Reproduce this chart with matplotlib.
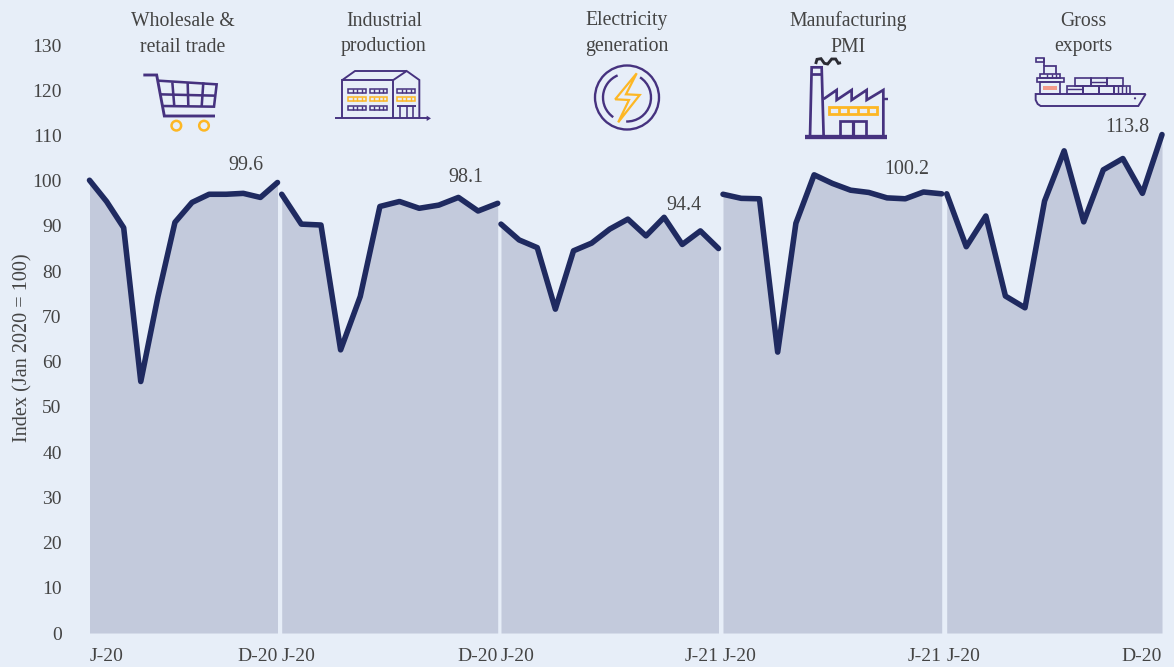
import matplotlib
matplotlib.use("Agg")
import matplotlib.pyplot as plt
from matplotlib.patches import Circle, Arc, Rectangle, Polygon

plt.rcParams['font.family'] = ['Liberation Serif', 'DejaVu Serif']

W, H = 1174, 667
BG = '#E7EEF8'; FILL = '#C3CADC'; LINE = '#1F2A60'; TXT = '#444444'
PURPLE = '#46327F'; YEL = '#FDB724'; PINK = '#F29A8A'

titles = ['Wholesale &\nretail trade', 'Industrial\nproduction', 'Electricity\ngeneration',
          'Manufacturing\nPMI', 'Gross\nexports']
first_labels = ['J-20', 'J-20', 'J-20', 'J-20', 'J-20']
last_labels = ['D-20', 'D-20', 'J-21', 'J-21', 'D-20']
end_labels = ['99.6', '98.1', '94.4', '100.2', '113.8']

wholesale = [100.1, 95.4, 89.6, 55.6, 74.3, 90.8, 95.2, 97.0, 97.0, 97.2, 96.3, 99.6]
industrial = [97.0, 90.4, 90.2, 62.6, 74.4, 94.3, 95.4, 93.9, 94.6, 96.3, 93.3, 95.0]
electricity = [90.4, 86.9, 85.2, 71.6, 84.5, 86.2, 89.3, 91.5, 87.8, 91.9, 85.9, 88.9, 85.0]
pmi = [97.0, 96.1, 96.0, 62.1, 90.6, 101.3, 99.4, 97.9, 97.4, 96.2, 96.0, 97.5, 97.1]
exports = [97.1, 85.4, 92.2, 74.5, 71.9, 95.5, 106.6, 90.9, 102.4, 104.9, 97.2, 110.2]
series = [wholesale, industrial, electricity, pmi, exports]
yticks = list(range(0, 131, 10))

# layout in pixels
panel_x = [(89.5, 277.5), (281.7, 497.7), (501, 718.5), (723, 941.7), (946.7, 1162)]
Y0, Y130 = 633.0, 45.0
title_x = [183, 384, 627, 848, 1083]
end_pos = [(246, 166), (466, 177), (684, 205), (907, 170), (1127, 127)]

fig = plt.figure(figsize=(W / 100, H / 100), dpi=100, facecolor=BG)

for i, (vals, (x0, x1)) in enumerate(zip(series, panel_x)):
    ax = fig.add_axes([x0 / W, 1 - Y0 / H, (x1 - x0) / W, (Y0 - Y130) / H])
    ax.patch.set_alpha(0)
    xs = list(range(len(vals)))
    ax.fill_between(xs, 0, vals, color=FILL, lw=0)
    ax.plot(xs, vals, color=LINE, lw=4.0, solid_capstyle='round', solid_joinstyle='round', clip_on=False, zorder=3)
    ax.set_xlim(0, len(vals) - 1)
    ax.set_ylim(0, 130)
    for s in ax.spines.values():
        s.set_visible(False)
    ax.set_xticks([0, len(vals) - 1], [first_labels[i], last_labels[i]])
    ax.tick_params(axis='x', length=0, pad=11, labelsize=14, labelcolor=TXT)
    labs = ax.get_xticklabels()
    labs[0].set_ha('left'); labs[1].set_ha('right')
    if i == 0:
        ax.set_yticks(yticks)
        ax.tick_params(axis='y', length=0, pad=20, labelsize=14, labelcolor=TXT)
    else:
        ax.set_yticks([])

ov = fig.add_axes([0, 0, 1, 1], zorder=5)
ov.set_xlim(0, W); ov.set_ylim(H, 0); ov.axis('off'); ov.patch.set_alpha(0)

ov.text(23, 348, 'Index (Jan 2020 = 100)', rotation=90, ha='center', va='center', fontsize=14.6, color=TXT)
for x, t in zip(title_x, titles):
    ov.text(x, 34, t, ha='center', va='center', fontsize=14.2, color=TXT, linespacing=1.5)
for (x, y), t in zip(end_pos, end_labels):
    ov.text(x, y, t, ha='center', va='center', fontsize=14.4, color=TXT)


def pl(ox, oy, pts, color=PURPLE, lw=1.3, scale=3.0, **kw):
    ov.plot([ox + p[0] / scale for p in pts], [oy + p[1] / scale for p in pts],
            color=color, lw=lw * 1.15, solid_capstyle='butt', solid_joinstyle='miter', **kw)


def rect(ox, oy, x0, y0, x1, y1, color=PURPLE, lw=1.2, fc='none'):
    ov.add_patch(Rectangle((ox + x0 / 3, oy + y0 / 3), (x1 - x0) / 3, (y1 - y0) / 3,
                           fill=fc != 'none', fc=fc, ec=color, lw=lw))


# cart
ox, oy = 130, 65
pl(ox, oy, [(40, 30), (80, 30), (103, 153), (255, 153)], lw=1.8)
pl(ox, oy, [(85, 47), (260, 58), (252, 125), (97, 123)], lw=1.6)
pl(ox, oy, [(90, 88), (255, 92)], lw=1.6)
for a, b in [(127, 133), (173, 175), (220, 215)]:
    pl(ox, oy, [(a, 52), (b, 125)], lw=1.6)
for c in (139, 222):
    ov.add_patch(Circle((ox + c / 3, oy + 182 / 3), 4.8, fill=False, ec=YEL, lw=1.8))

# building
ox, oy = 325, 60
pl(ox, oy, [(30, 175), (305, 175)], lw=1.2)
ov.add_patch(Polygon([(ox + 305 / 3, oy + 167 / 3), (ox + 318 / 3, oy + 175 / 3), (ox + 305 / 3, oy + 183 / 3)], fc=PURPLE, ec='none'))
pl(ox, oy, [(52, 175), (52, 60), (205, 60), (205, 175)], lw=1.2)
pl(ox, oy, [(52, 60), (90, 33), (245, 33)], lw=1.2)
pl(ox, oy, [(205, 60), (245, 33), (283, 60), (283, 175)], lw=1.2)
pl(ox, oy, [(217, 137), (272, 137)], lw=1.2)
for x in (225, 245, 265):
    pl(ox, oy, [(x, 137), (x, 175)], lw=1.0)
for xa, xb in [(70, 123), (134, 187), (217, 270)]:
    for y, c in [(92, PURPLE), (117, YEL), (143, PURPLE)]:
        if xa == 217 and y == 143:
            continue
        rect(ox, oy, xa, y - 6, xb, y + 6, color=c, lw=1.1)
        for k in (1, 2, 3):
            xx = xa + k * (xb - xa) / 4
            pl(ox, oy, [(xx, y - 6), (xx, y + 6)], color=c, lw=0.9)

# electricity
cx, cy = 627, 97.5
ov.add_patch(Circle((cx, cy), 32, fill=False, ec=PURPLE, lw=1.7))
# the overlay y axis is inverted, so angles run clockwise on screen
ov.add_patch(Arc((cx, cy), 48, 48, theta1=125, theta2=247, ec=PURPLE, lw=1.7))
ov.add_patch(Arc((cx, cy), 48, 48, theta1=-57, theta2=92, ec=PURPLE, lw=1.7))
bolt = [(636.7, 73.3), (615.2, 99.3), (629, 100), (618.2, 122.3), (639.7, 95), (626, 94.3)]
ov.add_patch(Polygon(bolt, closed=True, fill=False, ec=YEL, lw=1.6))

# factory
ox, oy = 795, 50
pl(ox, oy, [(45, 262), (50, 52), (80, 52), (86, 262)], lw=1.7)
pl(ox, oy, [(47, 72), (82, 72)], lw=1.7)
pl(ox, oy, [(62, 42), (66, 28), (78, 26), (88, 40), (98, 42), (110, 27), (122, 27), (130, 40), (138, 38)], color='#2B2B33', lw=1.8)
pl(ox, oy, [(86, 147), (125, 120), (125, 150), (170, 120), (170, 150), (215, 120), (215, 150), (265, 120), (265, 262)], lw=1.7)
pl(ox, oy, [(265, 148), (278, 148)], lw=1.5)
rect(ox, oy, 102, 170, 247, 192, color=YEL, lw=2)
for x in (131, 160, 189, 218):
    pl(ox, oy, [(x, 170), (x, 192)], color=YEL, lw=1.7)
pl(ox, oy, [(135, 262), (135, 212), (212, 212), (212, 262)], lw=1.7)
pl(ox, oy, [(173, 212), (173, 262)], lw=2)
pl(ox, oy, [(30, 262), (275, 262)], lw=2.7)

# ship
ox, oy = 1025, 50
pl(ox, oy, [(362, 132), (32, 132), (32, 150), (38, 162), (47, 168), (340, 168), (362, 132)], lw=1.2)
rect(ox, oy, 45, 97, 105, 132)
rect(ox, oy, 35, 83, 117, 97)
rect(ox, oy, 45, 72, 105, 83)
pl(ox, oy, [(57, 72), (57, 47), (92, 47), (92, 72)], lw=1.1)
pl(ox, oy, [(57, 47), (57, 25)], lw=1.1)
rect(ox, oy, 33, 25, 57, 37)
for x in (65, 80, 92):
    pl(ox, oy, [(x, 72), (x, 83)], lw=0.9)
rect(ox, oy, 55, 107, 97, 120, color=PINK, lw=0, fc=PINK)
for a, b, c, d in [(127, 107, 175, 132), (150, 84, 197, 107), (197, 84, 245, 107), (245, 84, 293, 107),
                   (175, 107, 222, 132), (222, 107, 268, 132), (268, 107, 316, 132)]:
    rect(ox, oy, a, b, c, d)
pl(ox, oy, [(127, 118), (175, 118)], lw=0.9)
pl(ox, oy, [(197, 95), (245, 95)], lw=0.9)
for x in (280, 292, 304):
    pl(ox, oy, [(x, 107), (x, 132)], lw=0.9)
ov.add_patch(Circle((ox + 330 / 3, oy + 145 / 3), 1.1, fc=PURPLE, ec='none'))

fig.savefig('out.png', dpi=100, facecolor=BG)
